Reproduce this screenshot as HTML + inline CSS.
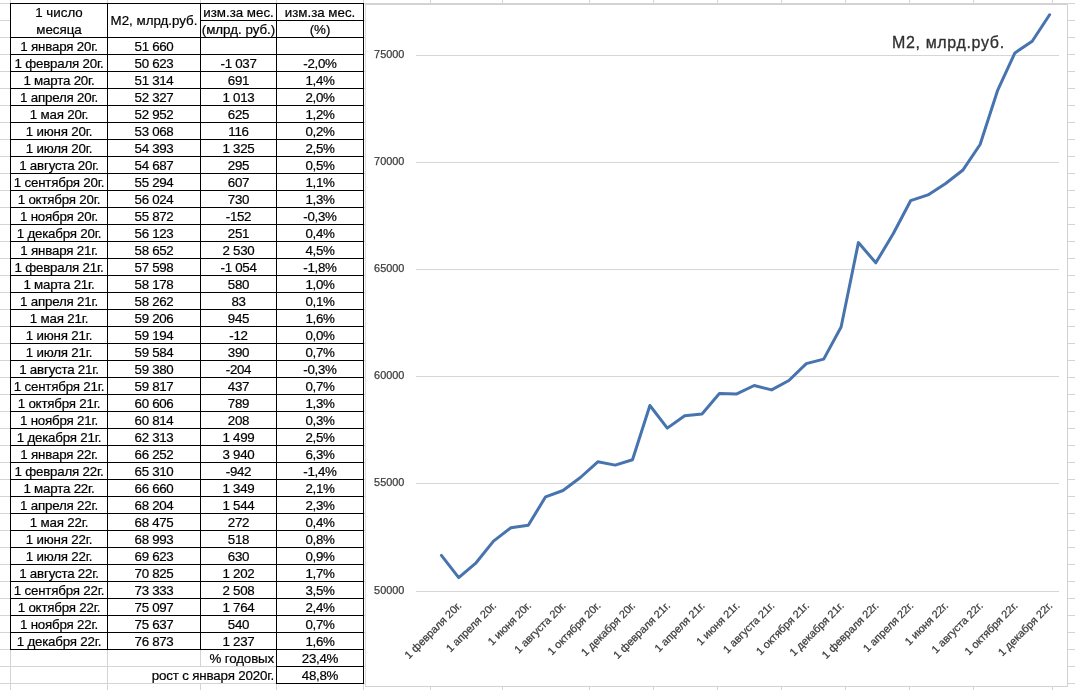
<!DOCTYPE html>
<html lang="ru"><head><meta charset="utf-8"><title>М2, млрд.руб.</title>
<style>
html,body{margin:0;padding:0;background:#fff;}
body{width:1075px;height:690px;position:relative;overflow:hidden;font-family:"Liberation Sans",Arial,sans-serif;font-size:13.33px;color:#000;}
.g{position:absolute;background:#d4d4d4;}
.b{position:absolute;background:#000;}
.t{position:absolute;height:17px;line-height:17px;text-align:center;white-space:nowrap;-webkit-text-stroke:0.2px #000;}
.c0{letter-spacing:-0.2px;}
.n{letter-spacing:-0.3px;}
.r{text-align:right;}
#chart{position:absolute;left:365px;top:4px;}
#chart text{font-family:"Liberation Sans",Arial,sans-serif;}
.ax{font-size:10.9px;fill:#3c3c3c;stroke:#3c3c3c;stroke-width:0.25px;}
.ti{font-size:16px;letter-spacing:0.65px;fill:#303030;stroke:#303030;stroke-width:0.3px;}
</style></head><body>
<div class="g" style="left:0;top:3px;width:1075px;height:1px"></div>
<div class="g" style="left:0;top:20px;width:1075px;height:1px"></div>
<div class="g" style="left:0;top:37px;width:1075px;height:1px"></div>
<div class="g" style="left:0;top:54px;width:1075px;height:1px"></div>
<div class="g" style="left:0;top:71px;width:1075px;height:1px"></div>
<div class="g" style="left:0;top:88px;width:1075px;height:1px"></div>
<div class="g" style="left:0;top:105px;width:1075px;height:1px"></div>
<div class="g" style="left:0;top:122px;width:1075px;height:1px"></div>
<div class="g" style="left:0;top:139px;width:1075px;height:1px"></div>
<div class="g" style="left:0;top:156px;width:1075px;height:1px"></div>
<div class="g" style="left:0;top:173px;width:1075px;height:1px"></div>
<div class="g" style="left:0;top:190px;width:1075px;height:1px"></div>
<div class="g" style="left:0;top:207px;width:1075px;height:1px"></div>
<div class="g" style="left:0;top:224px;width:1075px;height:1px"></div>
<div class="g" style="left:0;top:241px;width:1075px;height:1px"></div>
<div class="g" style="left:0;top:258px;width:1075px;height:1px"></div>
<div class="g" style="left:0;top:275px;width:1075px;height:1px"></div>
<div class="g" style="left:0;top:292px;width:1075px;height:1px"></div>
<div class="g" style="left:0;top:309px;width:1075px;height:1px"></div>
<div class="g" style="left:0;top:326px;width:1075px;height:1px"></div>
<div class="g" style="left:0;top:343px;width:1075px;height:1px"></div>
<div class="g" style="left:0;top:360px;width:1075px;height:1px"></div>
<div class="g" style="left:0;top:377px;width:1075px;height:1px"></div>
<div class="g" style="left:0;top:394px;width:1075px;height:1px"></div>
<div class="g" style="left:0;top:411px;width:1075px;height:1px"></div>
<div class="g" style="left:0;top:428px;width:1075px;height:1px"></div>
<div class="g" style="left:0;top:445px;width:1075px;height:1px"></div>
<div class="g" style="left:0;top:462px;width:1075px;height:1px"></div>
<div class="g" style="left:0;top:479px;width:1075px;height:1px"></div>
<div class="g" style="left:0;top:496px;width:1075px;height:1px"></div>
<div class="g" style="left:0;top:513px;width:1075px;height:1px"></div>
<div class="g" style="left:0;top:530px;width:1075px;height:1px"></div>
<div class="g" style="left:0;top:547px;width:1075px;height:1px"></div>
<div class="g" style="left:0;top:564px;width:1075px;height:1px"></div>
<div class="g" style="left:0;top:581px;width:1075px;height:1px"></div>
<div class="g" style="left:0;top:598px;width:1075px;height:1px"></div>
<div class="g" style="left:0;top:615px;width:1075px;height:1px"></div>
<div class="g" style="left:0;top:632px;width:1075px;height:1px"></div>
<div class="g" style="left:0;top:649px;width:1075px;height:1px"></div>
<div class="g" style="left:0;top:666px;width:1075px;height:1px"></div>
<div class="g" style="left:0;top:683px;width:1075px;height:1px"></div>
<div class="g" style="left:10px;top:0;width:1px;height:690px"></div>
<div class="g" style="left:107px;top:0;width:1px;height:690px"></div>
<div class="g" style="left:200px;top:0;width:1px;height:690px"></div>
<div class="g" style="left:276px;top:0;width:1px;height:690px"></div>
<div class="g" style="left:363px;top:0;width:1px;height:690px"></div>
<div class="g" style="left:430px;top:0;width:1px;height:690px"></div>
<div class="g" style="left:502px;top:0;width:1px;height:690px"></div>
<div class="g" style="left:589px;top:0;width:1px;height:690px"></div>
<div class="g" style="left:653px;top:0;width:1px;height:690px"></div>
<div class="g" style="left:717px;top:0;width:1px;height:690px"></div>
<div class="g" style="left:781px;top:0;width:1px;height:690px"></div>
<div class="g" style="left:845px;top:0;width:1px;height:690px"></div>
<div class="g" style="left:909px;top:0;width:1px;height:690px"></div>
<div class="g" style="left:973px;top:0;width:1px;height:690px"></div>
<div class="g" style="left:1052px;top:0;width:1px;height:690px"></div>
<div style="position:absolute;left:11px;top:4px;width:352px;height:645px;background:#fff"></div>
<div style="position:absolute;left:108px;top:667px;width:168px;height:16px;background:#fff"></div>
<div style="position:absolute;left:365px;top:4px;width:703px;height:683px;background:#fff;border:1px solid #d2d2d2;border-left-color:#dadada;box-sizing:border-box"></div>
<div class="b" style="left:10px;top:3px;width:354px;height:1px"></div>
<div class="b" style="left:200px;top:20px;width:164px;height:1px"></div>
<div class="b" style="left:10px;top:37px;width:354px;height:1px"></div>
<div class="b" style="left:10px;top:54px;width:354px;height:1px"></div>
<div class="b" style="left:10px;top:71px;width:354px;height:1px"></div>
<div class="b" style="left:10px;top:88px;width:354px;height:1px"></div>
<div class="b" style="left:10px;top:105px;width:354px;height:1px"></div>
<div class="b" style="left:10px;top:122px;width:354px;height:1px"></div>
<div class="b" style="left:10px;top:139px;width:354px;height:1px"></div>
<div class="b" style="left:10px;top:156px;width:354px;height:1px"></div>
<div class="b" style="left:10px;top:173px;width:354px;height:1px"></div>
<div class="b" style="left:10px;top:190px;width:354px;height:1px"></div>
<div class="b" style="left:10px;top:207px;width:354px;height:1px"></div>
<div class="b" style="left:10px;top:224px;width:354px;height:1px"></div>
<div class="b" style="left:10px;top:241px;width:354px;height:1px"></div>
<div class="b" style="left:10px;top:258px;width:354px;height:1px"></div>
<div class="b" style="left:10px;top:275px;width:354px;height:1px"></div>
<div class="b" style="left:10px;top:292px;width:354px;height:1px"></div>
<div class="b" style="left:10px;top:309px;width:354px;height:1px"></div>
<div class="b" style="left:10px;top:326px;width:354px;height:1px"></div>
<div class="b" style="left:10px;top:343px;width:354px;height:1px"></div>
<div class="b" style="left:10px;top:360px;width:354px;height:1px"></div>
<div class="b" style="left:10px;top:377px;width:354px;height:1px"></div>
<div class="b" style="left:10px;top:394px;width:354px;height:1px"></div>
<div class="b" style="left:10px;top:411px;width:354px;height:1px"></div>
<div class="b" style="left:10px;top:428px;width:354px;height:1px"></div>
<div class="b" style="left:10px;top:445px;width:354px;height:1px"></div>
<div class="b" style="left:10px;top:462px;width:354px;height:1px"></div>
<div class="b" style="left:10px;top:479px;width:354px;height:1px"></div>
<div class="b" style="left:10px;top:496px;width:354px;height:1px"></div>
<div class="b" style="left:10px;top:513px;width:354px;height:1px"></div>
<div class="b" style="left:10px;top:530px;width:354px;height:1px"></div>
<div class="b" style="left:10px;top:547px;width:354px;height:1px"></div>
<div class="b" style="left:10px;top:564px;width:354px;height:1px"></div>
<div class="b" style="left:10px;top:581px;width:354px;height:1px"></div>
<div class="b" style="left:10px;top:598px;width:354px;height:1px"></div>
<div class="b" style="left:10px;top:615px;width:354px;height:1px"></div>
<div class="b" style="left:10px;top:632px;width:354px;height:1px"></div>
<div class="b" style="left:10px;top:649px;width:354px;height:1px"></div>
<div class="b" style="left:276px;top:666px;width:88px;height:1px"></div>
<div class="b" style="left:276px;top:683px;width:88px;height:1px"></div>
<div class="b" style="left:10px;top:3px;width:1px;height:647px"></div>
<div class="b" style="left:107px;top:3px;width:1px;height:647px"></div>
<div class="b" style="left:200px;top:3px;width:1px;height:647px"></div>
<div class="b" style="left:276px;top:3px;width:1px;height:681px"></div>
<div class="b" style="left:363px;top:3px;width:1px;height:681px"></div>
<div class="t" style="left:11px;top:4px;width:96px;">1 число</div>
<div class="t" style="left:11px;top:21px;width:96px;">месяца</div>
<div class="t" style="left:108px;top:12px;width:92px;">М2, млрд.руб.</div>
<div class="t" style="left:201px;top:4px;width:75px;">изм.за мес.</div>
<div class="t" style="left:201px;top:21px;width:75px;">(млрд. руб.)</div>
<div class="t" style="left:277px;top:4px;width:86px;">изм.за мес.</div>
<div class="t" style="left:277px;top:21px;width:86px;">(%)</div>
<div class="t c0" style="left:11px;top:38px;width:96px;">1 января 20г.</div>
<div class="t n" style="left:108px;top:38px;width:92px;">51 660</div>
<div class="t c0" style="left:11px;top:55px;width:96px;">1 февраля 20г.</div>
<div class="t n" style="left:108px;top:55px;width:92px;">50 623</div>
<div class="t n" style="left:201px;top:55px;width:75px;">-1 037</div>
<div class="t n" style="left:277px;top:55px;width:86px;">-2,0%</div>
<div class="t c0" style="left:11px;top:72px;width:96px;">1 марта 20г.</div>
<div class="t n" style="left:108px;top:72px;width:92px;">51 314</div>
<div class="t n" style="left:201px;top:72px;width:75px;">691</div>
<div class="t n" style="left:277px;top:72px;width:86px;">1,4%</div>
<div class="t c0" style="left:11px;top:89px;width:96px;">1 апреля 20г.</div>
<div class="t n" style="left:108px;top:89px;width:92px;">52 327</div>
<div class="t n" style="left:201px;top:89px;width:75px;">1 013</div>
<div class="t n" style="left:277px;top:89px;width:86px;">2,0%</div>
<div class="t c0" style="left:11px;top:106px;width:96px;">1 мая 20г.</div>
<div class="t n" style="left:108px;top:106px;width:92px;">52 952</div>
<div class="t n" style="left:201px;top:106px;width:75px;">625</div>
<div class="t n" style="left:277px;top:106px;width:86px;">1,2%</div>
<div class="t c0" style="left:11px;top:123px;width:96px;">1 июня 20г.</div>
<div class="t n" style="left:108px;top:123px;width:92px;">53 068</div>
<div class="t n" style="left:201px;top:123px;width:75px;">116</div>
<div class="t n" style="left:277px;top:123px;width:86px;">0,2%</div>
<div class="t c0" style="left:11px;top:140px;width:96px;">1 июля 20г.</div>
<div class="t n" style="left:108px;top:140px;width:92px;">54 393</div>
<div class="t n" style="left:201px;top:140px;width:75px;">1 325</div>
<div class="t n" style="left:277px;top:140px;width:86px;">2,5%</div>
<div class="t c0" style="left:11px;top:157px;width:96px;">1 августа 20г.</div>
<div class="t n" style="left:108px;top:157px;width:92px;">54 687</div>
<div class="t n" style="left:201px;top:157px;width:75px;">295</div>
<div class="t n" style="left:277px;top:157px;width:86px;">0,5%</div>
<div class="t c0" style="left:11px;top:174px;width:96px;">1 сентября 20г.</div>
<div class="t n" style="left:108px;top:174px;width:92px;">55 294</div>
<div class="t n" style="left:201px;top:174px;width:75px;">607</div>
<div class="t n" style="left:277px;top:174px;width:86px;">1,1%</div>
<div class="t c0" style="left:11px;top:191px;width:96px;">1 октября 20г.</div>
<div class="t n" style="left:108px;top:191px;width:92px;">56 024</div>
<div class="t n" style="left:201px;top:191px;width:75px;">730</div>
<div class="t n" style="left:277px;top:191px;width:86px;">1,3%</div>
<div class="t c0" style="left:11px;top:208px;width:96px;">1 ноября 20г.</div>
<div class="t n" style="left:108px;top:208px;width:92px;">55 872</div>
<div class="t n" style="left:201px;top:208px;width:75px;">-152</div>
<div class="t n" style="left:277px;top:208px;width:86px;">-0,3%</div>
<div class="t c0" style="left:11px;top:225px;width:96px;">1 декабря 20г.</div>
<div class="t n" style="left:108px;top:225px;width:92px;">56 123</div>
<div class="t n" style="left:201px;top:225px;width:75px;">251</div>
<div class="t n" style="left:277px;top:225px;width:86px;">0,4%</div>
<div class="t c0" style="left:11px;top:242px;width:96px;">1 января 21г.</div>
<div class="t n" style="left:108px;top:242px;width:92px;">58 652</div>
<div class="t n" style="left:201px;top:242px;width:75px;">2 530</div>
<div class="t n" style="left:277px;top:242px;width:86px;">4,5%</div>
<div class="t c0" style="left:11px;top:259px;width:96px;">1 февраля 21г.</div>
<div class="t n" style="left:108px;top:259px;width:92px;">57 598</div>
<div class="t n" style="left:201px;top:259px;width:75px;">-1 054</div>
<div class="t n" style="left:277px;top:259px;width:86px;">-1,8%</div>
<div class="t c0" style="left:11px;top:276px;width:96px;">1 марта 21г.</div>
<div class="t n" style="left:108px;top:276px;width:92px;">58 178</div>
<div class="t n" style="left:201px;top:276px;width:75px;">580</div>
<div class="t n" style="left:277px;top:276px;width:86px;">1,0%</div>
<div class="t c0" style="left:11px;top:293px;width:96px;">1 апреля 21г.</div>
<div class="t n" style="left:108px;top:293px;width:92px;">58 262</div>
<div class="t n" style="left:201px;top:293px;width:75px;">83</div>
<div class="t n" style="left:277px;top:293px;width:86px;">0,1%</div>
<div class="t c0" style="left:11px;top:310px;width:96px;">1 мая 21г.</div>
<div class="t n" style="left:108px;top:310px;width:92px;">59 206</div>
<div class="t n" style="left:201px;top:310px;width:75px;">945</div>
<div class="t n" style="left:277px;top:310px;width:86px;">1,6%</div>
<div class="t c0" style="left:11px;top:327px;width:96px;">1 июня 21г.</div>
<div class="t n" style="left:108px;top:327px;width:92px;">59 194</div>
<div class="t n" style="left:201px;top:327px;width:75px;">-12</div>
<div class="t n" style="left:277px;top:327px;width:86px;">0,0%</div>
<div class="t c0" style="left:11px;top:344px;width:96px;">1 июля 21г.</div>
<div class="t n" style="left:108px;top:344px;width:92px;">59 584</div>
<div class="t n" style="left:201px;top:344px;width:75px;">390</div>
<div class="t n" style="left:277px;top:344px;width:86px;">0,7%</div>
<div class="t c0" style="left:11px;top:361px;width:96px;">1 августа 21г.</div>
<div class="t n" style="left:108px;top:361px;width:92px;">59 380</div>
<div class="t n" style="left:201px;top:361px;width:75px;">-204</div>
<div class="t n" style="left:277px;top:361px;width:86px;">-0,3%</div>
<div class="t c0" style="left:11px;top:378px;width:96px;">1 сентября 21г.</div>
<div class="t n" style="left:108px;top:378px;width:92px;">59 817</div>
<div class="t n" style="left:201px;top:378px;width:75px;">437</div>
<div class="t n" style="left:277px;top:378px;width:86px;">0,7%</div>
<div class="t c0" style="left:11px;top:395px;width:96px;">1 октября 21г.</div>
<div class="t n" style="left:108px;top:395px;width:92px;">60 606</div>
<div class="t n" style="left:201px;top:395px;width:75px;">789</div>
<div class="t n" style="left:277px;top:395px;width:86px;">1,3%</div>
<div class="t c0" style="left:11px;top:412px;width:96px;">1 ноября 21г.</div>
<div class="t n" style="left:108px;top:412px;width:92px;">60 814</div>
<div class="t n" style="left:201px;top:412px;width:75px;">208</div>
<div class="t n" style="left:277px;top:412px;width:86px;">0,3%</div>
<div class="t c0" style="left:11px;top:429px;width:96px;">1 декабря 21г.</div>
<div class="t n" style="left:108px;top:429px;width:92px;">62 313</div>
<div class="t n" style="left:201px;top:429px;width:75px;">1 499</div>
<div class="t n" style="left:277px;top:429px;width:86px;">2,5%</div>
<div class="t c0" style="left:11px;top:446px;width:96px;">1 января 22г.</div>
<div class="t n" style="left:108px;top:446px;width:92px;">66 252</div>
<div class="t n" style="left:201px;top:446px;width:75px;">3 940</div>
<div class="t n" style="left:277px;top:446px;width:86px;">6,3%</div>
<div class="t c0" style="left:11px;top:463px;width:96px;">1 февраля 22г.</div>
<div class="t n" style="left:108px;top:463px;width:92px;">65 310</div>
<div class="t n" style="left:201px;top:463px;width:75px;">-942</div>
<div class="t n" style="left:277px;top:463px;width:86px;">-1,4%</div>
<div class="t c0" style="left:11px;top:480px;width:96px;">1 марта 22г.</div>
<div class="t n" style="left:108px;top:480px;width:92px;">66 660</div>
<div class="t n" style="left:201px;top:480px;width:75px;">1 349</div>
<div class="t n" style="left:277px;top:480px;width:86px;">2,1%</div>
<div class="t c0" style="left:11px;top:497px;width:96px;">1 апреля 22г.</div>
<div class="t n" style="left:108px;top:497px;width:92px;">68 204</div>
<div class="t n" style="left:201px;top:497px;width:75px;">1 544</div>
<div class="t n" style="left:277px;top:497px;width:86px;">2,3%</div>
<div class="t c0" style="left:11px;top:514px;width:96px;">1 мая 22г.</div>
<div class="t n" style="left:108px;top:514px;width:92px;">68 475</div>
<div class="t n" style="left:201px;top:514px;width:75px;">272</div>
<div class="t n" style="left:277px;top:514px;width:86px;">0,4%</div>
<div class="t c0" style="left:11px;top:531px;width:96px;">1 июня 22г.</div>
<div class="t n" style="left:108px;top:531px;width:92px;">68 993</div>
<div class="t n" style="left:201px;top:531px;width:75px;">518</div>
<div class="t n" style="left:277px;top:531px;width:86px;">0,8%</div>
<div class="t c0" style="left:11px;top:548px;width:96px;">1 июля 22г.</div>
<div class="t n" style="left:108px;top:548px;width:92px;">69 623</div>
<div class="t n" style="left:201px;top:548px;width:75px;">630</div>
<div class="t n" style="left:277px;top:548px;width:86px;">0,9%</div>
<div class="t c0" style="left:11px;top:565px;width:96px;">1 августа 22г.</div>
<div class="t n" style="left:108px;top:565px;width:92px;">70 825</div>
<div class="t n" style="left:201px;top:565px;width:75px;">1 202</div>
<div class="t n" style="left:277px;top:565px;width:86px;">1,7%</div>
<div class="t c0" style="left:11px;top:582px;width:96px;">1 сентября 22г.</div>
<div class="t n" style="left:108px;top:582px;width:92px;">73 333</div>
<div class="t n" style="left:201px;top:582px;width:75px;">2 508</div>
<div class="t n" style="left:277px;top:582px;width:86px;">3,5%</div>
<div class="t c0" style="left:11px;top:599px;width:96px;">1 октября 22г.</div>
<div class="t n" style="left:108px;top:599px;width:92px;">75 097</div>
<div class="t n" style="left:201px;top:599px;width:75px;">1 764</div>
<div class="t n" style="left:277px;top:599px;width:86px;">2,4%</div>
<div class="t c0" style="left:11px;top:616px;width:96px;">1 ноября 22г.</div>
<div class="t n" style="left:108px;top:616px;width:92px;">75 637</div>
<div class="t n" style="left:201px;top:616px;width:75px;">540</div>
<div class="t n" style="left:277px;top:616px;width:86px;">0,7%</div>
<div class="t c0" style="left:11px;top:633px;width:96px;">1 декабря 22г.</div>
<div class="t n" style="left:108px;top:633px;width:92px;">76 873</div>
<div class="t n" style="left:201px;top:633px;width:75px;">1 237</div>
<div class="t n" style="left:277px;top:633px;width:86px;">1,6%</div>
<div class="t r" style="left:108px;top:650px;width:166px;letter-spacing:-0.15px">% годовых</div>
<div class="t r" style="left:108px;top:667px;width:166px;letter-spacing:-0.15px">рост с января 2020г.</div>
<div class="t n" style="left:277px;top:650px;width:86px;">23,4%</div>
<div class="t n" style="left:277px;top:667px;width:86px;">48,8%</div>
<svg id="chart" width="703" height="683" viewBox="365 4 703 683">
<line x1="416" y1="591.5" x2="1059" y2="591.5" stroke="#d6d6d6" stroke-width="1"/>
<text class="ax" x="404.4" y="594.4" text-anchor="end">50000</text>
<line x1="416" y1="483.5" x2="1059" y2="483.5" stroke="#d6d6d6" stroke-width="1"/>
<text class="ax" x="404.4" y="486.4" text-anchor="end">55000</text>
<line x1="416" y1="376.5" x2="1059" y2="376.5" stroke="#d6d6d6" stroke-width="1"/>
<text class="ax" x="404.4" y="379.4" text-anchor="end">60000</text>
<line x1="416" y1="269.5" x2="1059" y2="269.5" stroke="#d6d6d6" stroke-width="1"/>
<text class="ax" x="404.4" y="272.4" text-anchor="end">65000</text>
<line x1="416" y1="162.5" x2="1059" y2="162.5" stroke="#d6d6d6" stroke-width="1"/>
<text class="ax" x="404.4" y="165.4" text-anchor="end">70000</text>
<line x1="416" y1="55.5" x2="1059" y2="55.5" stroke="#d6d6d6" stroke-width="1"/>
<text class="ax" x="404.4" y="58.4" text-anchor="end">75000</text>
<polyline fill="none" stroke="#4773ae" stroke-width="3" stroke-linejoin="round" stroke-linecap="round" points="441.4,555.4 458.7,577.6 476.1,562.8 493.5,541.1 510.9,527.7 528.3,525.2 545.6,496.8 563.0,490.5 580.4,477.5 597.8,461.8 615.2,465.1 632.5,459.7 649.9,405.5 667.3,428.1 684.7,415.7 702.0,413.9 719.4,393.6 736.8,393.9 754.2,385.5 771.6,389.9 788.9,380.5 806.3,363.6 823.7,359.1 841.1,327.0 858.4,242.6 875.8,262.8 893.2,233.8 910.6,200.7 928.0,194.9 945.3,183.8 962.7,170.3 980.1,144.5 997.5,90.7 1014.9,52.9 1032.2,41.3 1049.6,14.8"/>
<text class="ax" text-anchor="end" transform="translate(462.2,606.3) rotate(-45)">1 февраля 20г.</text>
<text class="ax" text-anchor="end" transform="translate(497.0,606.3) rotate(-45)">1 апреля 20г.</text>
<text class="ax" text-anchor="end" transform="translate(531.8,606.3) rotate(-45)">1 июня 20г.</text>
<text class="ax" text-anchor="end" transform="translate(566.5,606.3) rotate(-45)">1 августа 20г.</text>
<text class="ax" text-anchor="end" transform="translate(601.3,606.3) rotate(-45)">1 октября 20г.</text>
<text class="ax" text-anchor="end" transform="translate(636.0,606.3) rotate(-45)">1 декабря 20г.</text>
<text class="ax" text-anchor="end" transform="translate(670.8,606.3) rotate(-45)">1 февраля 21г.</text>
<text class="ax" text-anchor="end" transform="translate(705.5,606.3) rotate(-45)">1 апреля 21г.</text>
<text class="ax" text-anchor="end" transform="translate(740.3,606.3) rotate(-45)">1 июня 21г.</text>
<text class="ax" text-anchor="end" transform="translate(775.1,606.3) rotate(-45)">1 августа 21г.</text>
<text class="ax" text-anchor="end" transform="translate(809.8,606.3) rotate(-45)">1 октября 21г.</text>
<text class="ax" text-anchor="end" transform="translate(844.6,606.3) rotate(-45)">1 декабря 21г.</text>
<text class="ax" text-anchor="end" transform="translate(879.3,606.3) rotate(-45)">1 февраля 22г.</text>
<text class="ax" text-anchor="end" transform="translate(914.1,606.3) rotate(-45)">1 апреля 22г.</text>
<text class="ax" text-anchor="end" transform="translate(948.8,606.3) rotate(-45)">1 июня 22г.</text>
<text class="ax" text-anchor="end" transform="translate(983.6,606.3) rotate(-45)">1 августа 22г.</text>
<text class="ax" text-anchor="end" transform="translate(1018.4,606.3) rotate(-45)">1 октября 22г.</text>
<text class="ax" text-anchor="end" transform="translate(1053.1,606.3) rotate(-45)">1 декабря 22г.</text>
<text class="ti" x="892" y="47.5">М2, млрд.руб.</text>
</svg>
</body></html>
